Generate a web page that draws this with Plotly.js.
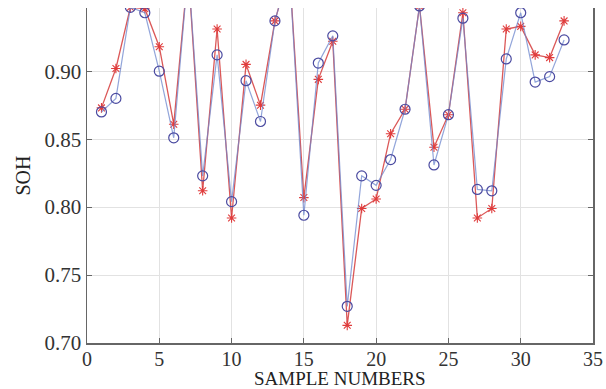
<!DOCTYPE html>
<html>
<head>
<meta charset="utf-8">
<script src="https://cdn.plot.ly/plotly-3.0.1.min.js"></script>
<style>
html,body{margin:0;padding:0;background:#fff;}
#chart{width:606px;height:389px;}
</style>
</head>
<body>
<div id="chart"></div>
<script>
const sampleNumbers = [1,2,3,4,5,6,7,8,9,10,11,12,13,14,15,16,17,18,19,20,21,22,23,24,25,26,27,28,29,30,31,32,33];
const sohActual = [0.870,0.880,0.947,0.943,0.900,0.851,0.975,0.823,0.912,0.804,0.893,0.863,0.937,0.975,0.794,0.906,0.926,0.727,0.823,0.816,0.835,0.872,0.948,0.831,0.868,0.939,0.813,0.812,0.909,0.943,0.892,0.896,0.923];
const sohEstimated = [0.873,0.902,0.947,0.946,0.918,0.861,0.975,0.812,0.931,0.792,0.905,0.875,0.937,0.975,0.807,0.894,0.922,0.713,0.799,0.806,0.854,0.872,0.948,0.844,0.868,0.943,0.792,0.799,0.931,0.933,0.912,0.910,0.937];
const xTicks = [0,5,10,15,20,25,30,35];
const yTicks = [0.70,0.75,0.80,0.85,0.90,0.95];

const traces = [
  {
    x: sampleNumbers, y: sohEstimated, mode: 'lines+markers', type: 'scatter',
    line: {color: 'rgba(215,70,70,0.9)', width: 1.3},
    marker: {symbol: 'asterisk', size: 8, line: {color: '#e03c3c', width: 1.1}, color: '#e03c3c'},
    cliponaxis: true
  },
  {
    x: sampleNumbers, y: sohActual, mode: 'lines+markers', type: 'scatter',
    line: {color: 'rgba(110,135,205,0.75)', width: 1.2},
    marker: {symbol: 'circle-open', size: 10, line: {color: '#4a4aa0', width: 1.2}, color: '#4a4aa0'},
    cliponaxis: true
  }
];

const serif = 'Times New Roman, Liberation Serif, serif';

const layout = {
  width: 606, height: 389,
  margin: {l: 87, r: 13, t: 8, b: 46},
  paper_bgcolor: '#fff', plot_bgcolor: '#fff',
  showlegend: false,
  font: {family: serif, color: '#333'},
  xaxis: {
    range: [0, 35], tickvals: xTicks, ticktext: xTicks.map(String),
    showgrid: true, gridcolor: '#e2e2e2', gridwidth: 1,
    zeroline: false, showline: true, linecolor: '#666', linewidth: 1.5,
    ticks: 'inside', ticklen: 5, tickcolor: '#666', mirror: false,
    tickfont: {family: serif, size: 20, color: '#333'},
    ticklabelstandoff: -3
  },
  yaxis: {
    range: [0.70, 0.9465], tickvals: yTicks, ticktext: yTicks.map(v => v.toFixed(2)),
    showgrid: true, gridcolor: '#e2e2e2', gridwidth: 1,
    zeroline: false, showline: true, linecolor: '#666', linewidth: 1.5,
    ticks: 'inside', ticklen: 5, tickcolor: '#666', mirror: 'ticks',
    tickfont: {family: serif, size: 21, color: '#333'},
    title: {text: 'SOH', font: {family: serif, size: 20, color: '#222'}, standoff: 8}
  },
  annotations: [
    {text: 'SAMPLE NUMBERS', xref: 'paper', yref: 'paper', x: 0.5, y: -0.107,
     xanchor: 'center', yanchor: 'middle', showarrow: false,
     font: {family: serif, size: 19, color: '#222'}}
  ]
};

Plotly.newPlot('chart', traces, layout, {displayModeBar: false, staticPlot: true}).then(function (gd) {
  gd.querySelectorAll('text').forEach(function (t) {
    t.style.setProperty('font-family', '"Liberation Serif", serif', 'important');
  });
});
</script>
</body>
</html>
